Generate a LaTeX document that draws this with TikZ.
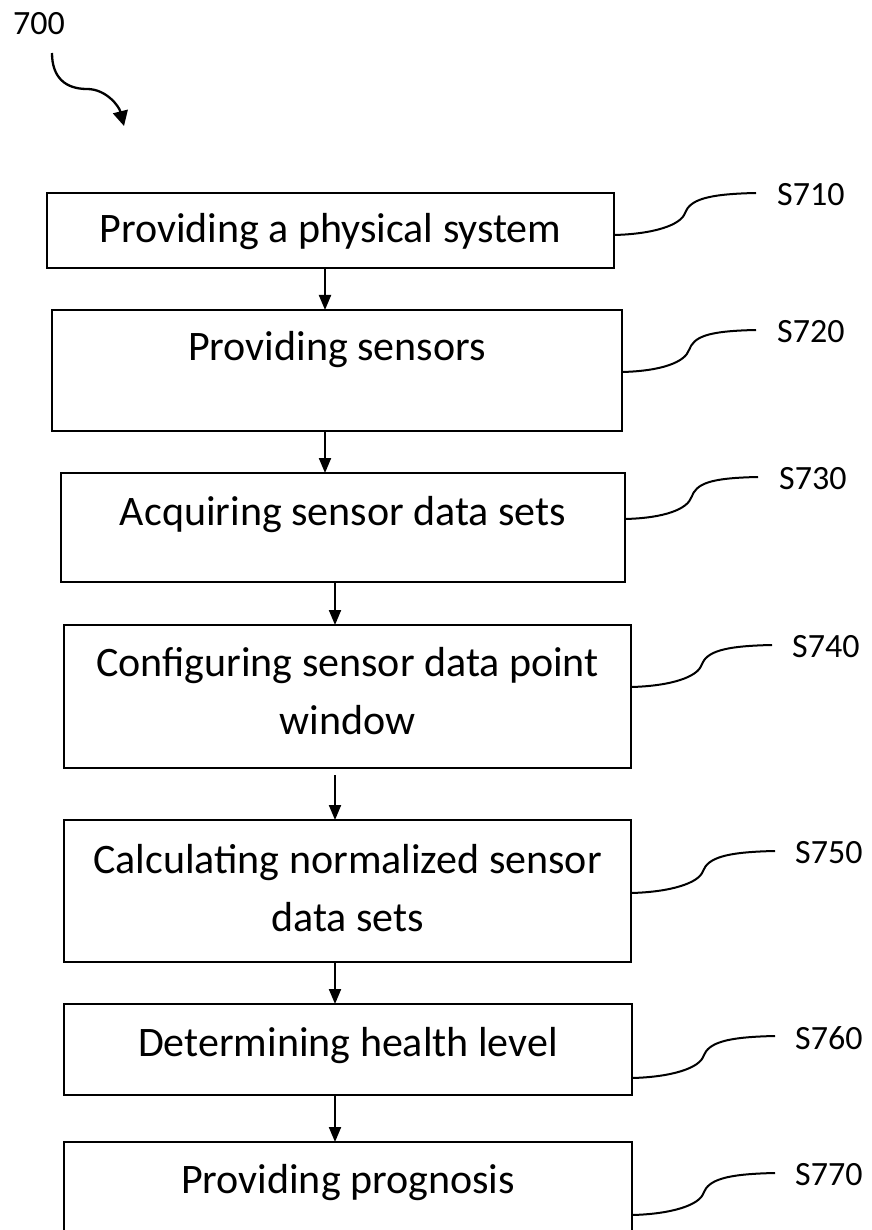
\documentclass[tikz,border=0pt]{standalone}
\usepackage{fontspec}
\setmainfont{Carlito}
\usetikzlibrary{arrows.meta}
\newcommand\leadpath[6]{% #1 box, #2 xs, #3 ys, #4 xe, #5 end coordinate name, #6 label name
  \coordinate (#5) at (#4,{#3-42});
  \draw[lead] (#1.east |- 0,#3) .. controls ({#2+40},{#3-1}) and ({(#2+#4)/2-4},{#3-10}) .. ({(#2+#4)/2},{#3-22})
     .. controls ({(#2+#4)/2+5},{#3-35}) and ({#4-50},{#3-41}) .. (#5);
}
\begin{document}
\begin{tikzpicture}[x=1pt,y=-1pt,
  stepbox/.style={draw,line width=2.6pt,inner sep=0pt,outer sep=0pt},
  steptext/.style={font=\fontsize{42}{58}\selectfont,anchor=base,inner sep=0pt},
  reflab/.style={font=\fontsize{34}{40}\selectfont,anchor=west,inner sep=0pt},
  flow/.style={line width=2pt,-{Triangle[length=15pt,width=12pt]}},
  lead/.style={line width=2pt},
  curly/.style={line width=2.3pt,-{Triangle[length=15pt,width=15pt]}}]
\useasboundingbox (0,0) rectangle (871,1230);
% reference numeral
\node[reflab,anchor=base west] (n700) at (13,35) {700};
\coordinate (c700s) at (52,53);
\coordinate (c700e) at (124,126);
\draw[curly] (c700s) .. controls (52,78) and (66,89) .. (87,89) .. controls (106,89) and (119,106) .. (c700e);
% boxes
\node[stepbox,minimum width=567pt,minimum height=75pt] (b1) at (330.5,230.5) {};
\node[stepbox,minimum width=570pt,minimum height=121pt] (b2) at (337,370.5) {};
\node[stepbox,minimum width=564pt,minimum height=109pt] (b3) at (343,527.5) {};
\node[stepbox,minimum width=567pt,minimum height=143pt] (b4) at (347.5,696.5) {};
\node[stepbox,minimum width=567pt,minimum height=142pt] (b5) at (347.5,891) {};
\node[stepbox,minimum width=568pt,minimum height=91pt] (b6) at (348,1049.5) {};
\node[stepbox,minimum width=568pt,minimum height=118pt] (b7) at (348,1201) {};
% texts
\node[steptext] (t1) at (330.5,243) {Providing a physical system};
\node[steptext] (t2) at (337,360) {Providing sensors};
\node[steptext] (t3) at (343,525) {Acquiring sensor data sets};
\node[steptext] (t4a) at (347.5,676) {Configuring sensor data point};
\node[steptext] (t4b) at (347.5,734) {window};
\node[steptext] (t5a) at (347.5,873) {Calculating normalized sensor};
\node[steptext] (t5b) at (347.5,931) {data sets};
\node[steptext] (t6) at (348,1056) {Determining health level};
\node[steptext] (t7) at (348,1193) {Providing prognosis};
% flow arrows
\draw[flow] (b1.south -| 325,0) -- (b2.north -| 325,0);
\draw[flow] (b2.south -| 325,0) -- (b3.north -| 325,0);
\draw[flow] (b3.south -| 335,0) -- (b4.north -| 335,0);
\draw[flow,shorten <=7pt] (b4.south -| 335,0) -- (b5.north -| 335,0);
\draw[flow] (b5.south -| 335,0) -- (b6.north -| 335,0);
\draw[flow] (b6.south -| 335,0) -- (b7.north -| 335,0);
% leaders and labels
\leadpath{b1}{614}{235}{756}{e1}{l1}
\leadpath{b2}{622}{372}{756}{e2}{l2}
\leadpath{b3}{625}{519}{758}{e3}{l3}
\leadpath{b4}{631}{687}{772}{e4}{l4}
\leadpath{b5}{631}{893}{775}{e5}{l5}
\leadpath{b6}{632}{1078}{775}{e6}{l6}
\leadpath{b7}{632}{1215}{775}{e7}{l7}
\node[reflab] (l1) at (777,195) {S710};
\node[reflab] (l2) at (777,332) {S720};
\node[reflab] (l3) at (779,479) {S730};
\node[reflab] (l4) at (792,647) {S740};
\node[reflab] (l5) at (795,853) {S750};
\node[reflab] (l6) at (795,1038) {S760};
\node[reflab] (l7) at (795,1175) {S770};
\end{tikzpicture}
\end{document}
